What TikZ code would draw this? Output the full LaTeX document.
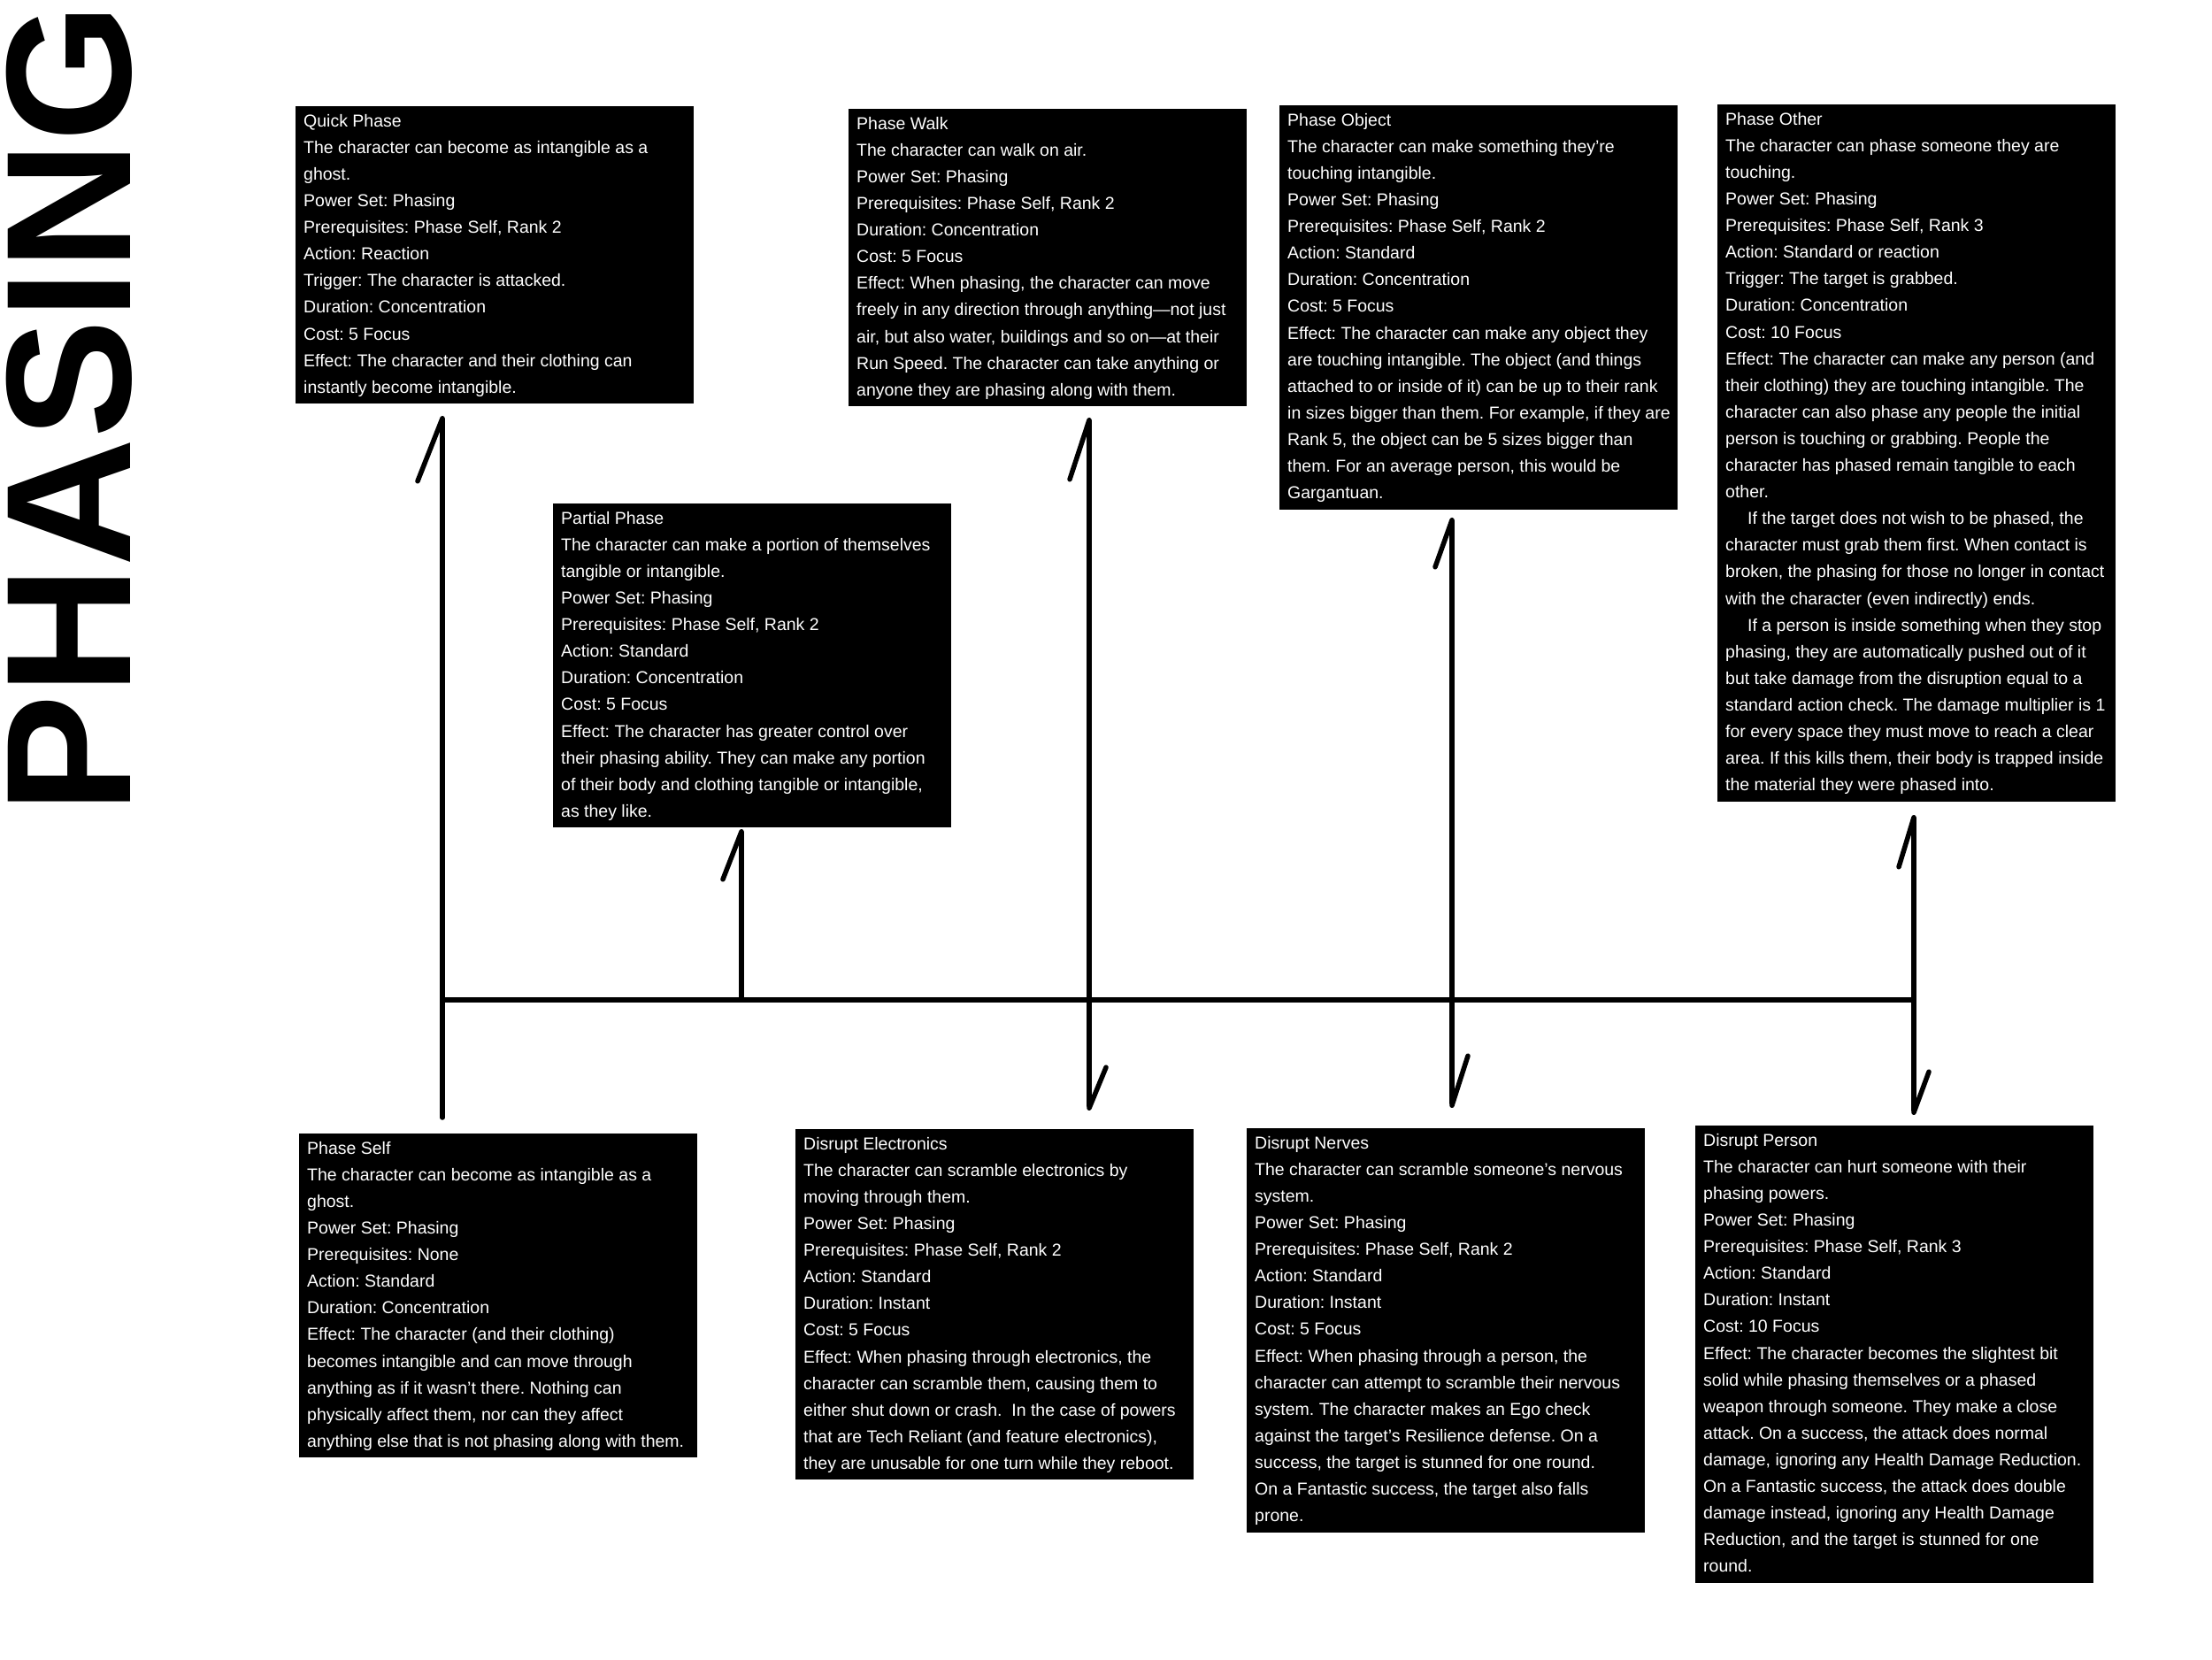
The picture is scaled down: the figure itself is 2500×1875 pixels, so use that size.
\documentclass[tikz,border=0pt]{standalone}
\usepackage{fontspec}
\setmainfont{Liberation Sans}
\usetikzlibrary{arrows.meta}
\newlength\cardw
\setlength\cardw{432pt}
\newcommand\PCard[1]{\vbox{\hrule height0pt depth0pt width\cardw #1}}
\newcommand\PFirst[1]{\hbox to \cardw{\rule{0pt}{23pt}#1\hss}}
\newcommand\PLine[1]{\hbox to \cardw{#1\hss}}
\newcommand\PLast[1]{\hbox to \cardw{\rule[-12pt]{0pt}{12pt}#1\hss}}
\newcommand\PInd{\hspace*{25pt}}
\newcommand\bodyfont{\fontsize{19.5pt}{30.1pt}\selectfont\frenchspacing\lineskiplimit=-200pt\relax}
\tikzset{
  card/.style={fill=black, text=white, anchor=north west, inner xsep=9pt, inner ysep=0pt, font=\bodyfont},
  spine/.style={line width=5.5pt, line cap=round, draw=black},
  barb/.style 2 args={spine, -{Straight Barb[harpoon, round, length=#1, width=#2]}},
}
\begin{document}
\begin{tikzpicture}[x=1pt,y=-1pt]
\fill[white] (0,0) rectangle (2500,1875);
\useasboundingbox (0,0) rectangle (2500,1875);

\node[rotate=90, anchor=base west, inner sep=0pt, font=\fontsize{201pt}{201pt}\selectfont\bfseries] (title) at (147,920) {PHASING};

\node[card] (QP) at (334,120) {\PCard{%
\PFirst{Quick Phase}%
\PLine{The character can become as intangible as a}%
\PLine{ghost.}%
\PLine{Power Set: Phasing}%
\PLine{Prerequisites: Phase Self, Rank 2}%
\PLine{Action: Reaction}%
\PLine{Trigger: The character is attacked.}%
\PLine{Duration: Concentration}%
\PLine{Cost: 5 Focus}%
\PLine{Effect: The character and their clothing can}%
\PLast{instantly become intangible.}}};

\node[card] (PW) at (959,123) {\PCard{%
\PFirst{Phase Walk}%
\PLine{The character can walk on air.}%
\PLine{Power Set: Phasing}%
\PLine{Prerequisites: Phase Self, Rank 2}%
\PLine{Duration: Concentration}%
\PLine{Cost: 5 Focus}%
\PLine{Effect: When phasing, the character can move}%
\PLine{freely in any direction through anything—not just}%
\PLine{air, but also water, buildings and so on—at their}%
\PLine{Run Speed. The character can take anything or}%
\PLast{anyone they are phasing along with them.}}};

\node[card] (PO) at (1446,119) {\PCard{%
\PFirst{Phase Object}%
\PLine{The character can make something they're}%
\PLine{touching intangible.}%
\PLine{Power Set: Phasing}%
\PLine{Prerequisites: Phase Self, Rank 2}%
\PLine{Action: Standard}%
\PLine{Duration: Concentration}%
\PLine{Cost: 5 Focus}%
\PLine{Effect: The character can make any object they}%
\PLine{are touching intangible. The object (and things}%
\PLine{attached to or inside of it) can be up to their rank}%
\PLine{in sizes bigger than them. For example, if they are}%
\PLine{Rank 5, the object can be 5 sizes bigger than}%
\PLine{them. For an average person, this would be}%
\PLast{Gargantuan.}}};

\node[card] (PT) at (1941,118) {\PCard{%
\PFirst{Phase Other}%
\PLine{The character can phase someone they are}%
\PLine{touching.}%
\PLine{Power Set: Phasing}%
\PLine{Prerequisites: Phase Self, Rank 3}%
\PLine{Action: Standard or reaction}%
\PLine{Trigger: The target is grabbed.}%
\PLine{Duration: Concentration}%
\PLine{Cost: 10 Focus}%
\PLine{Effect: The character can make any person (and}%
\PLine{their clothing) they are touching intangible. The}%
\PLine{character can also phase any people the initial}%
\PLine{person is touching or grabbing. People the}%
\PLine{character has phased remain tangible to each}%
\PLine{other.}%
\PLine{\PInd If the target does not wish to be phased, the}%
\PLine{character must grab them first. When contact is}%
\PLine{broken, the phasing for those no longer in contact}%
\PLine{with the character (even indirectly) ends.}%
\PLine{\PInd If a person is inside something when they stop}%
\PLine{phasing, they are automatically pushed out of it}%
\PLine{but take damage from the disruption equal to a}%
\PLine{standard action check. The damage multiplier is 1}%
\PLine{for every space they must move to reach a clear}%
\PLine{area. If this kills them, their body is trapped inside}%
\PLast{the material they were phased into.}}};

\node[card] (PP) at (625,569) {\PCard{%
\PFirst{Partial Phase}%
\PLine{The character can make a portion of themselves}%
\PLine{tangible or intangible.}%
\PLine{Power Set: Phasing}%
\PLine{Prerequisites: Phase Self, Rank 2}%
\PLine{Action: Standard}%
\PLine{Duration: Concentration}%
\PLine{Cost: 5 Focus}%
\PLine{Effect: The character has greater control over}%
\PLine{their phasing ability. They can make any portion}%
\PLine{of their body and clothing tangible or intangible,}%
\PLast{as they like.}}};

\node[card] (PS) at (338,1281) {\PCard{%
\PFirst{Phase Self}%
\PLine{The character can become as intangible as a}%
\PLine{ghost.}%
\PLine{Power Set: Phasing}%
\PLine{Prerequisites: None}%
\PLine{Action: Standard}%
\PLine{Duration: Concentration}%
\PLine{Effect: The character (and their clothing)}%
\PLine{becomes intangible and can move through}%
\PLine{anything as if it wasn't there. Nothing can}%
\PLine{physically affect them, nor can they affect}%
\PLast{anything else that is not phasing along with them.}}};

\node[card] (DE) at (899,1276) {\PCard{%
\PFirst{Disrupt Electronics}%
\PLine{The character can scramble electronics by}%
\PLine{moving through them.}%
\PLine{Power Set: Phasing}%
\PLine{Prerequisites: Phase Self, Rank 2}%
\PLine{Action: Standard}%
\PLine{Duration: Instant}%
\PLine{Cost: 5 Focus}%
\PLine{Effect: When phasing through electronics, the}%
\PLine{character can scramble them, causing them to}%
\PLine{either shut down or crash.\ \ In the case of powers}%
\PLine{that are Tech Reliant (and feature electronics),}%
\PLast{they are unusable for one turn while they reboot.}}};

\node[card] (DN) at (1409,1275) {\PCard{%
\PFirst{Disrupt Nerves}%
\PLine{The character can scramble someone's nervous}%
\PLine{system.}%
\PLine{Power Set: Phasing}%
\PLine{Prerequisites: Phase Self, Rank 2}%
\PLine{Action: Standard}%
\PLine{Duration: Instant}%
\PLine{Cost: 5 Focus}%
\PLine{Effect: When phasing through a person, the}%
\PLine{character can attempt to scramble their nervous}%
\PLine{system. The character makes an Ego check}%
\PLine{against the target's Resilience defense. On a}%
\PLine{success, the target is stunned for one round.}%
\PLine{On a Fantastic success, the target also falls}%
\PLast{prone.}}};

\node[card] (DP) at (1916,1272) {\PCard{%
\PFirst{Disrupt Person}%
\PLine{The character can hurt someone with their}%
\PLine{phasing powers.}%
\PLine{Power Set: Phasing}%
\PLine{Prerequisites: Phase Self, Rank 3}%
\PLine{Action: Standard}%
\PLine{Duration: Instant}%
\PLine{Cost: 10 Focus}%
\PLine{Effect: The character becomes the slightest bit}%
\PLine{solid while phasing themselves or a phased}%
\PLine{weapon through someone. They make a close}%
\PLine{attack. On a success, the attack does normal}%
\PLine{damage, ignoring any Health Damage Reduction.}%
\PLine{On a Fantastic success, the attack does double}%
\PLine{damage instead, ignoring any Health Damage}%
\PLine{Reduction, and the target is stunned for one}%
\PLast{round.}}};

\coordinate (j1) at (500,1130);
\coordinate (j2) at (838,1130);
\coordinate (j3) at (1231,1130);
\coordinate (j4) at (1641,1130);
\coordinate (j5) at (2163,1130);
\coordinate (selfend) at (500,1263);
\coordinate (tQP) at (500,470);
\coordinate (tPP) at (838,937);
\coordinate (tPW) at (1231,472);
\coordinate (tDE) at (1231,1255);
\coordinate (tPO) at (1641,585);
\coordinate (tDN) at (1641,1252);
\coordinate (tPT) at (2163,921);
\coordinate (tDP) at (2163,1260);

\draw[spine] (j1) -- (j5);
\draw[spine] (selfend) -- (j1);
\draw[barb={71pt}{56pt}] (j1) -- (tQP);
\draw[barb={54pt}{42pt}] (j2) -- (tPP);
\draw[barb={67pt}{44pt}] (j3) -- (tPW);
\draw[barb={46pt}{38pt}] (j3) -- (tDE);
\draw[barb={53pt}{38pt}] (j4) -- (tPO);
\draw[barb={56pt}{36pt}] (j4) -- (tDN);
\draw[barb={56pt}{34pt}] (j5) -- (tPT);
\draw[barb={46pt}{34pt}] (j5) -- (tDP);
\end{tikzpicture}
\end{document}
